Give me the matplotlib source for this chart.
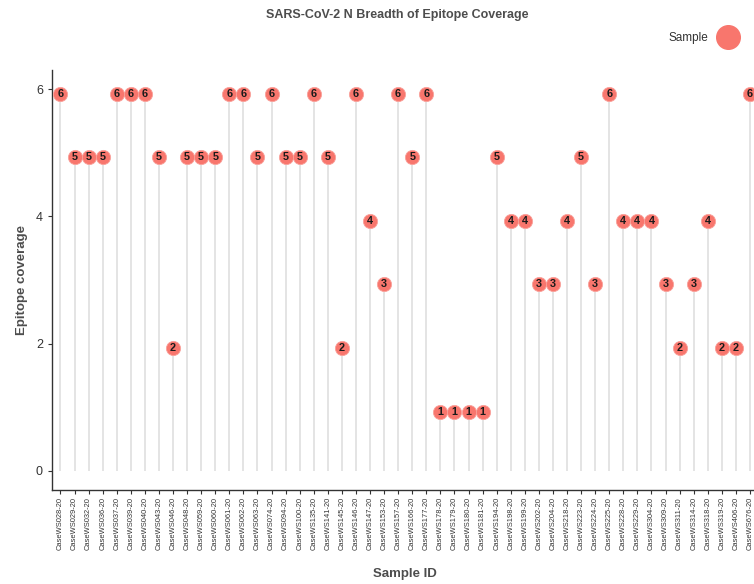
import numpy as np
import matplotlib
matplotlib.use("Agg")
import matplotlib.pyplot as plt
from matplotlib.lines import Line2D

# data
sample_ids = [
    "028", "029", "032", "036", "037", "039", "040", "043", "046", "048",
    "059", "060", "061", "062", "063", "074", "094", "100", "135", "141",
    "145", "146", "147", "153", "157", "166", "177", "178", "179", "180",
    "181", "194", "198", "199", "202", "204", "218", "223", "224", "225",
    "228", "229", "304", "309", "311", "314", "318", "319", "406", "676",
]
sample_labels = [f"CaseWS{s}-20" for s in sample_ids]
coverage = [
    6, 5, 5, 5, 6, 6, 6, 5, 2, 5,
    5, 5, 6, 6, 5, 6, 5, 5, 6, 5,
    2, 6, 4, 3, 6, 5, 6, 1, 1, 1,
    1, 5, 4, 4, 3, 3, 4, 5, 3, 6,
    4, 4, 4, 3, 2, 3, 4, 2, 2, 6,
]

# style
POINT_COLOR = "#F8766D"
STEM_COLOR = "#dddddd"
TEXT_GREY = "#4d4d4d"
NUDGE = -0.07   # points sit a little below the integer grid in the original

plt.rcParams["font.family"] = ["Liberation Sans", "DejaVu Sans"]

fig = plt.figure(figsize=(7.54, 5.84), dpi=100)
ax = fig.add_axes([52 / 754, 1 - 490 / 584, (758.4 - 52) / 754, (490 - 70) / 584])

x = np.arange(len(sample_labels))
y = np.array(coverage) + NUDGE

ax.vlines(x, 0, y, color=STEM_COLOR, lw=1.1, zorder=1)
ax.scatter(x, y, s=105, color=POINT_COLOR, edgecolors="#f9a39d", linewidths=0.6,
           zorder=3, clip_on=False)
for xi, yi, v in zip(x, y, coverage):
    ax.text(xi, yi, str(v), ha="center", va="center", fontsize=7.8,
            color="#1a1a1a", fontweight="bold", zorder=4, clip_on=False)

ax.set_xlim(-0.6, len(sample_labels) - 0.4)
ax.set_ylim(-0.3, 6.3)
ax.set_xticks(x)
ax.set_xticklabels(sample_labels, rotation=90, fontsize=5.4, color="#333333")
ax.set_yticks([0, 2, 4, 6])
ax.tick_params(axis="y", labelsize=9, colors="#333333", length=3, width=0.8)
ax.tick_params(axis="x", length=3, width=0.8, colors="#333333", pad=2)

for side in ["top", "right"]:
    ax.spines[side].set_visible(False)
for side in ["left", "bottom"]:
    ax.spines[side].set_color("#333333")
    ax.spines[side].set_linewidth(1.0)

ax.set_xlabel("Sample ID", fontsize=9.5, fontweight="bold", color=TEXT_GREY, labelpad=13)
ax.set_ylabel("Epitope coverage", fontsize=9.5, fontweight="bold", color=TEXT_GREY, labelpad=6)

fig.text(397 / 754, 1 - 15 / 584, "SARS-CoV-2 N Breadth of Epitope Coverage",
         ha="center", va="center", fontsize=9, fontweight="bold", color=TEXT_GREY)

legend_handle = Line2D([0], [0], marker="o", linestyle="none", markersize=17,
                       markerfacecolor=POINT_COLOR, markeredgecolor=POINT_COLOR)
fig.legend(handles=[legend_handle], labels=["Sample"], loc="center right",
           bbox_to_anchor=(750 / 754, 1 - 38 / 584), frameon=False,
           fontsize=8.5, handletextpad=0.6, markerfirst=False, labelcolor="#333333")

fig.savefig("out.png", dpi=100)
